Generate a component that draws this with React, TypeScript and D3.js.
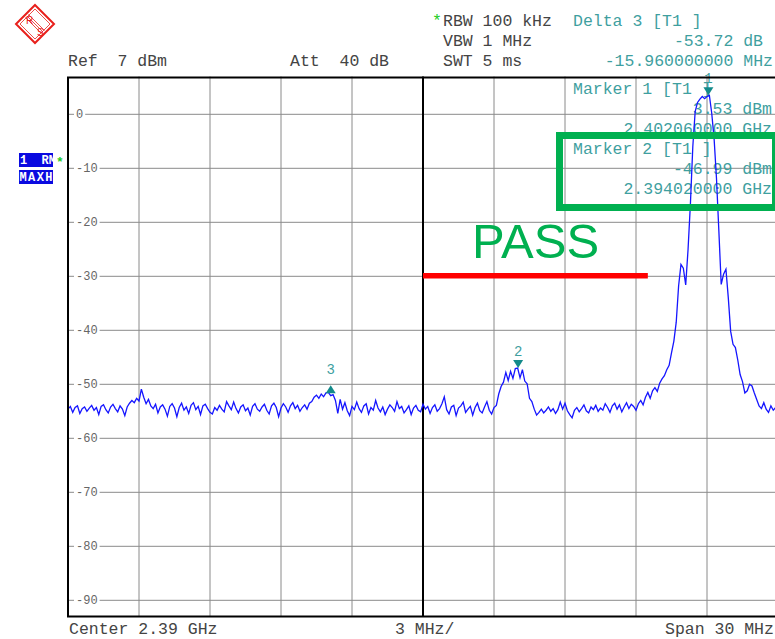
import React from 'react'
import * as d3 from 'd3'

// max-hold trace, 301 sweep points from 2.375 to 2.405 GHz (dBm)
const traceDbm = [
  -54.6, -54.1, -55.2, -54.3, -54.0, -55.4, -54.5, -54.2, -55.0, -54.4,
  -53.9, -54.8, -54.3, -55.6, -54.1, -53.8, -54.7, -55.3, -54.2, -53.7,
  -54.5, -55.1, -54.0, -54.6, -55.8, -54.2, -53.5, -53.0, -53.4, -52.6,
  -53.1, -50.9, -52.4, -53.6, -52.8, -54.0, -54.5, -53.7, -55.3, -54.2,
  -53.8, -54.6, -55.9, -54.1, -53.6, -54.4, -56.0, -54.3, -53.5, -54.8,
  -54.2, -55.4, -53.9, -53.4, -54.7, -54.1, -55.6, -54.0, -53.7, -54.5,
  -55.2, -55.5, -54.3, -54.8, -53.9, -54.6, -55.1, -53.2, -54.0, -54.7,
  -53.3, -54.5, -55.3, -54.2, -53.8, -54.9, -54.4, -55.7, -54.1, -53.6,
  -54.6, -55.0, -54.2, -53.7, -54.8, -55.5, -54.0, -53.5, -54.3, -56.0,
  -54.4, -53.6, -54.2, -55.2, -54.0, -53.4, -54.5, -53.9, -55.0, -54.3,
  -53.8, -54.6, -53.5, -53.2, -52.4, -52.0, -52.6, -51.8, -52.3, -51.6,
  -51.5, -52.1, -51.9, -53.0, -55.4, -52.8, -54.6, -53.4, -54.9, -55.8,
  -54.1, -54.7, -53.3, -54.5, -55.2, -54.0, -53.6, -55.5, -54.3, -54.8,
  -53.0, -54.4, -55.1, -54.2, -55.6, -54.6, -53.8, -54.3, -55.0, -53.2,
  -54.5, -54.1, -55.3, -54.7, -54.0, -55.6, -54.4, -53.9, -54.8, -55.1,
  -53.7, -54.6, -54.1, -55.4, -54.3, -53.8, -55.0, -54.5, -53.6, -52.3,
  -54.7, -55.5, -54.2, -53.9, -55.8, -54.4, -54.0, -53.3, -55.2, -54.6,
  -54.1, -55.7, -54.3, -53.5, -54.9, -55.3, -54.2, -53.2, -54.8, -55.5,
  -54.3, -53.9, -51.8, -50.4, -49.6, -47.8, -49.3, -47.6, -48.9, -47.1,
  -47.0, -48.8, -47.3, -49.4, -49.9, -52.6, -53.2, -54.6, -55.7, -55.2,
  -54.6, -55.3, -54.8, -54.2, -55.0, -54.5, -55.4, -54.7, -53.3, -54.6,
  -53.5, -54.9, -55.6, -56.2, -54.8, -54.3, -55.1, -54.5, -53.8, -54.9,
  -55.3, -54.2, -54.7, -53.9, -55.0, -54.4, -54.8, -53.6, -54.3, -55.2,
  -54.0, -53.5, -54.6, -53.8, -55.1, -54.2, -53.4, -54.5, -53.7, -54.1,
  -54.8, -53.6, -53.0, -53.8, -52.4, -51.5, -52.6, -51.2, -50.6, -51.3,
  -49.8, -49.0, -48.4, -47.3, -46.5, -44.2, -42.0, -38.5, -31.8, -27.8,
  -28.5, -31.6, -25.0, -16.5, -6.0, 0.5, 2.2, 2.8, 3.3, 2.9,
  3.3, 3.53, 0.2, -4.5, -11.8, -21.5, -31.5, -29.6, -28.7, -34.0,
  -40.2, -42.6, -43.2, -45.5, -48.2, -49.5, -51.6, -51.2, -50.0, -50.3,
  -51.6, -52.8, -54.0, -54.5, -53.4, -54.6, -55.2, -54.0, -54.8, -54.3,
  -54.6,
]

const startGHz = 2.375
const stopGHz = 2.405
const refDbm = 7
const bottomDbm = -93
const yTicks = [0, -10, -20, -30, -40, -50, -60, -70, -80, -90]
const xGridGHz = [2.378, 2.381, 2.384, 2.387, 2.393, 2.396, 2.399, 2.402]
const centerGHz = 2.39

const markerIds = ['1', '2', '3']
const markerGHz = [2.40206, 2.39402, 2.3861]
const markerDbm = [3.53, -46.99, -50.19]

const limitDbm = -30
const limitGHz = [2.39, 2.3995]

const headerGray = ['RBW 100 kHz', 'VBW 1 MHz', 'SWT 5 ms']
const deltaText = ['Delta 3 [T1 ]', '-53.72 dB', '-15.960000000 MHz']
const marker1Text = ['Marker 1 [T1 ]', '3.53 dBm', '2.402060000 GHz']
const marker2Text = ['Marker 2 [T1 ]', '-46.99 dBm', '2.394020000 GHz']

const W = 775
const H = 639
const mono = "'Liberation Mono', 'DejaVu Sans Mono', monospace"
const teal = '#3f9f9f'
const gray = '#444'

export default function App() {
  const x = d3.scaleLinear().domain([startGHz, stopGHz]).range([68, 778])
  const y = d3.scaleLinear().domain([refDbm, bottomDbm]).range([76.5, 616.5])
  const sweep = d3.scaleLinear().domain([0, traceDbm.length - 1]).range([startGHz, stopGHz])
  const line = d3.line<number>().x((d, i) => x(sweep(i))).y(d => y(d))

  const left = x(startGHz)
  const top = y(refDbm)
  const bottom = y(bottomDbm)
  const right = x(stopGHz)

  return (
    <svg width={W} height={H} style={{position: 'absolute', left: 0, top: 0, background: '#fff'}}>
      <defs>
        <clipPath id='plot'>
          <rect x={left} y={top} width={right - left} height={bottom - top} />
        </clipPath>
        <clipPath id='badge'>
          <rect x={19} y={153} width={34} height={14} />
        </clipPath>
      </defs>

      {/* R&S logo */}
      <g stroke='#e8201c' fill='none'>
        <path d='M35,5 L54,24 L35,43 L16,24 Z' strokeWidth={2} />
        <path d='M35,9 L50,24 L35,39 L20,24 Z' strokeWidth={0.8} />
        <line x1={27} y1={16} x2={43} y2={32} strokeWidth={0.8} />
        <line x1={28.5} y1={14.5} x2={44.5} y2={30.5} strokeWidth={0.8} />
        <line x1={25.5} y1={17.5} x2={41.5} y2={33.5} strokeWidth={0.8} />
        <text x={26} y={24} fill='#e8201c' stroke='none' fontFamily='Liberation Sans' fontSize={10}>R</text>
        <text x={37} y={36} fill='#e8201c' stroke='none' fontFamily='Liberation Sans' fontSize={10}>S</text>
      </g>

      {/* header */}
      <g fontFamily={mono} fontSize={16.5} fill={gray}>
        <text x={68} y={66} xmlSpace='preserve'>{'Ref  7 dBm'}</text>
        <text x={290} y={66} xmlSpace='preserve'>{'Att  40 dB'}</text>
        <text x={432} y={26} fill='#22cc22'>*</text>
        {headerGray.map((t, i) => (
          <text key={t} x={443} y={26 + i * 20}>{t}</text>
        ))}
        <g fill={teal}>
          <text x={573} y={26}>{deltaText[0]}</text>
          <text x={763} y={46} textAnchor='end'>{deltaText[1]}</text>
          <text x={773} y={66} textAnchor='end'>{deltaText[2]}</text>
        </g>
      </g>

      {/* trace mode badges */}
      <g fontFamily={mono} fontWeight='bold' fontSize={12}>
        <rect x={19} y={153} width={34} height={14} fill='#0a0ae0' />
        <rect x={19} y={170} width={34} height={14} fill='#0a0ae0' />
        <text x={20} y={164} fill='#fff' xmlSpace='preserve' clipPath='url(#badge)'>{'1  RM'}</text>
        <text x={19.5} y={181} fill='#fff' textLength={33}>MAXH</text>
        <text x={56} y={166} fill='#22cc22' fontSize={13}>*</text>
      </g>

      {/* grid */}
      <g stroke='#8a8a8a' strokeWidth={1}>
        {yTicks.map(t => (
          <line key={t} x1={left} x2={right} y1={y(t)} y2={y(t)} />
        ))}
        {xGridGHz.map(f => (
          <line key={f} x1={x(f)} x2={x(f)} y1={top} y2={bottom} />
        ))}
      </g>
      <line x1={x(centerGHz)} x2={x(centerGHz)} y1={top} y2={bottom} stroke='#000' strokeWidth={2} />
      <g fontFamily={mono} fontSize={12} fill='#666'>
        {yTicks.map(t => {
          const label = String(t)
          return (
            <g key={t}>
              <rect x={74} y={y(t) - 5} width={label.length * 7.2 + 4} height={10} fill='#fff' />
              <text x={76} y={y(t) + 4}>{label}</text>
            </g>
          )
        })}
      </g>

      {/* marker info text (under trace) */}
      <g fontFamily={mono} fontSize={16.5} fill={teal}>
        <text x={573} y={94}>{marker1Text[0]}</text>
        <text x={772} y={114} textAnchor='end'>{marker1Text[1]}</text>
        <text x={772} y={134} textAnchor='end'>{marker1Text[2]}</text>
        <text x={573} y={154}>{marker2Text[0]}</text>
        <text x={772} y={174} textAnchor='end'>{marker2Text[1]}</text>
        <text x={772} y={194} textAnchor='end'>{marker2Text[2]}</text>
      </g>

      {/* trace */}
      <g clipPath='url(#plot)'>
        <path d={line(traceDbm) ?? ''} fill='none' stroke='#1515ff' strokeWidth={1.3} />
      </g>

      {/* markers */}
      {markerIds.map((id, i) => {
        const mx = x(markerGHz[i])
        const my = y(markerDbm[i])
        const up = id === '3'
        const tri = up
          ? `M${mx},${my} L${mx + 5},${my + 8} L${mx - 5},${my + 8} Z`
          : `M${mx},${my} L${mx + 5},${my - 8} L${mx - 5},${my - 8} Z`
        return (
          <g key={id}>
            <path d={tri} fill='#138a8a' />
            <text x={mx} y={up ? my - 11 : my - 12} textAnchor='middle' fontFamily={mono}
              fontSize={14} fill={teal}>{id}</text>
          </g>
        )
      })}

      {/* frame */}
      <rect x={left} y={top + 1} width={right - left} height={bottom - top - 1} fill='none' stroke='#000' strokeWidth={2} />

      {/* footer */}
      <g fontFamily={mono} fontSize={16.5} fill={gray}>
        <text x={69} y={634}>Center 2.39 GHz</text>
        <text x={395} y={634}>3 MHz/</text>
        <text x={665} y={634}>Span 30 MHz</text>
      </g>

      {/* annotations */}
      <rect x={559.5} y={135.5} width={216} height={72} fill='none' stroke='#00b050' strokeWidth={7} />
      <line x1={x(limitGHz[0])} x2={x(limitGHz[1])} y1={y(limitDbm) - 0.5} y2={y(limitDbm) - 0.5}
        stroke='#ff0000' strokeWidth={5.5} />
      <text x={472} y={258} fontFamily="'Liberation Sans', Arial, sans-serif" fontSize={49} fill='#00b050'>PASS</text>
    </svg>
  )
}
